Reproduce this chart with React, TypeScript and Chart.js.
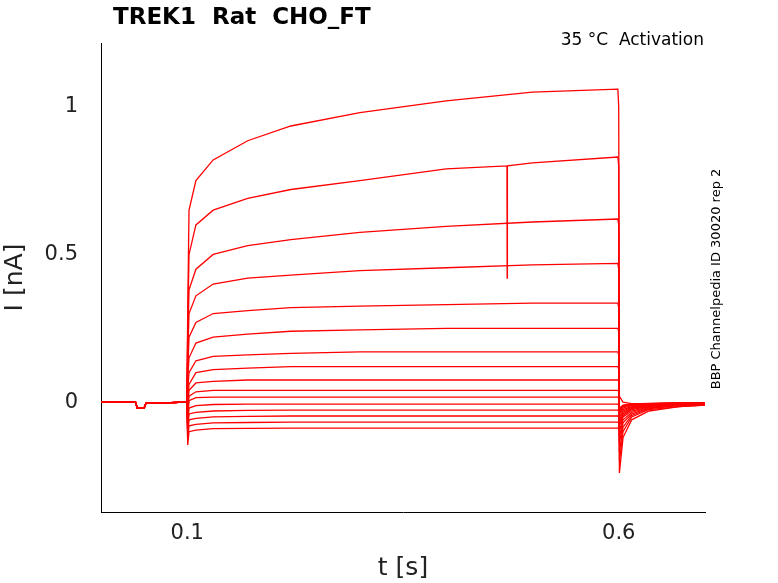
import React, { useEffect, useRef } from 'react';
import Chart from 'chart.js/auto';

// pre-step holding, shared by all sweeps
const PRE_T = [0, 0.04, 0.042, 0.05, 0.052, 0.0995];
const PRE_I = [0, 0, -0.02, -0.02, -0.004, 0];

// step segment times (s)
const STEP_T = [0.1005, 0.102, 0.11, 0.13, 0.17, 0.22, 0.3, 0.4, 0.5, 0.599];
// one row per sweep (nA)
const STEP_I = [
  [0.3, 0.65, 0.75, 0.82, 0.885, 0.935, 0.98, 1.02, 1.05, 1.06],
  [0.25, 0.5, 0.6, 0.65, 0.69, 0.72, 0.75, 0.79, 0.81, 0.83],
  [0.2, 0.38, 0.45, 0.5, 0.53, 0.55, 0.575, 0.595, 0.61, 0.62],
  [0.15, 0.3, 0.36, 0.4, 0.42, 0.43, 0.445, 0.455, 0.465, 0.47],
  [0.1, 0.22, 0.27, 0.3, 0.31, 0.32, 0.325, 0.33, 0.335, 0.335],
  [0.08, 0.15, 0.2, 0.22, 0.23, 0.24, 0.245, 0.25, 0.25, 0.25],
  [0.04, 0.1, 0.14, 0.155, 0.16, 0.165, 0.17, 0.17, 0.17, 0.17],
  [0.0, 0.06, 0.1, 0.11, 0.115, 0.12, 0.12, 0.12, 0.12, 0.12],
  [-0.02, 0.04, 0.065, 0.07, 0.075, 0.075, 0.075, 0.075, 0.075, 0.075],
  [-0.04, 0.02, 0.035, 0.04, 0.04, 0.04, 0.04, 0.04, 0.04, 0.04],
  [-0.06, 0.005, 0.015, 0.017, 0.017, 0.017, 0.017, 0.017, 0.017, 0.017],
  [-0.08, -0.02, -0.012, -0.008, -0.007, -0.007, -0.007, -0.007, -0.007, -0.007],
  [-0.1, -0.04, -0.035, -0.03, -0.028, -0.027, -0.027, -0.027, -0.027, -0.027],
  [-0.11, -0.06, -0.055, -0.05, -0.048, -0.047, -0.047, -0.047, -0.047, -0.047],
  [-0.125, -0.08, -0.075, -0.07, -0.069, -0.068, -0.068, -0.068, -0.068, -0.068],
  [-0.145, -0.1, -0.095, -0.09, -0.089, -0.088, -0.088, -0.088, -0.088, -0.088],
];

// brief artefact on the second sweep
const GLITCH_T = [0.4705, 0.4707, 0.471];
const GLITCH_I = [0.8, 0.42, 0.8];

// tail after the step
const TAIL_T = [0.6, 0.6008, 0.605, 0.615, 0.635, 0.67, 0.7];
const TAIL_I = [
  [1.0, 0.02, 0.0, -0.005, -0.005, -0.005, -0.005],
  [0.8, -0.24, -0.12, -0.06, -0.03, -0.015, -0.01],
  [0.6, -0.2, -0.1, -0.05, -0.025, -0.015, -0.01],
  [0.45, -0.17, -0.085, -0.045, -0.022, -0.012, -0.008],
  [0.32, -0.14, -0.07, -0.04, -0.02, -0.01, -0.007],
  [0.24, -0.12, -0.06, -0.035, -0.018, -0.01, -0.006],
  [0.16, -0.1, -0.05, -0.03, -0.016, -0.009, -0.005],
  [0.11, -0.08, -0.045, -0.025, -0.014, -0.008, -0.005],
  [0.07, -0.07, -0.04, -0.022, -0.012, -0.007, -0.004],
  [0.035, -0.06, -0.035, -0.02, -0.01, -0.006, -0.004],
  [0.015, -0.05, -0.03, -0.018, -0.009, -0.005, -0.003],
  [-0.01, -0.04, -0.025, -0.015, -0.008, -0.004, -0.003],
  [-0.03, -0.035, -0.02, -0.012, -0.007, -0.004, -0.002],
  [-0.05, -0.03, -0.015, -0.01, -0.006, -0.003, -0.002],
  [-0.07, -0.025, -0.012, -0.008, -0.005, -0.003, -0.002],
  [-0.09, -0.02, -0.01, -0.006, -0.004, -0.002, -0.002],
];

const X_TICKS = [0.1, 0.6];
const Y_TICKS = [0, 0.5, 1];

const FONT = 'DejaVu Sans';

const textPlugin = {
  id: 'texts',
  afterDraw(chart: any) {
    const { ctx, chartArea } = chart;
    ctx.save();
    ctx.fillStyle = '#000';
    ctx.font = `bold 23px ${FONT}`;
    ctx.textAlign = 'left';
    ctx.textBaseline = 'middle';
    ctx.fillText('TREK1  Rat  CHO_FT', 113, 18);
    ctx.font = `17px ${FONT}`;
    ctx.textAlign = 'right';
    ctx.fillText('35 °C  Activation', chartArea.right - 1, 41);
    ctx.translate(717, 279);
    ctx.rotate(-Math.PI / 2);
    ctx.textAlign = 'center';
    ctx.font = `13px ${FONT}`;
    ctx.fillText('BBP Channelpedia ID 30020 rep 2', 0, 0);
    ctx.restore();
  },
};

const App: React.FC = () => {
  const canvasRef = useRef<HTMLCanvasElement | null>(null);

  useEffect(() => {
    if (!canvasRef.current) return;
    const datasets = STEP_I.map((row, k) => {
      const pts: { x: number; y: number }[] = [];
      PRE_T.forEach((t, i) => pts.push({ x: t, y: PRE_I[i] }));
      STEP_T.forEach((t, i) => {
        pts.push({ x: t, y: row[i] });
        if (k === 1 && i === 7) GLITCH_T.forEach((g, j) => pts.push({ x: g, y: GLITCH_I[j] }));
      });
      TAIL_T.forEach((t, i) => pts.push({ x: t, y: TAIL_I[k][i] }));
      return {
        data: pts,
        borderColor: '#ff0000',
        borderWidth: 1.3,
        pointRadius: 0,
        fill: false,
      };
    });

    const chart = new Chart(canvasRef.current, {
      type: 'line',
      data: { datasets },
      options: {
        animation: false,
        responsive: false,
        layout: { padding: { top: 43, right: 73, left: 0, bottom: 0 } },
        plugins: { legend: { display: false }, tooltip: { enabled: false } },
        scales: {
          x: {
            type: 'linear',
            min: 0,
            max: 0.7,
            afterBuildTicks: (s: any) => { s.ticks = X_TICKS.map((v) => ({ value: v })); },
            afterFit: (s: any) => { s.height = 71; },
            grid: { display: false, drawTicks: false },
            border: { color: '#000' },
            ticks: { color: '#222', font: { family: FONT, size: 21 }, padding: 9 },
            title: { display: true, text: 't [s]', color: '#222', font: { family: FONT, size: 25 }, padding: 0 },
          },
          y: {
            type: 'linear',
            min: -0.372,
            max: 1.216,
            afterBuildTicks: (s: any) => { s.ticks = Y_TICKS.map((v) => ({ value: v })); },
            afterFit: (s: any) => { s.width = 101; },
            grid: { display: false, drawTicks: false },
            border: { color: '#000' },
            ticks: { color: '#222', font: { family: FONT, size: 21 }, padding: 23, callback: (v: any) => String(v) },
            title: { display: true, text: 'I [nA]', color: '#222', font: { family: FONT, size: 25 }, padding: 0 },
          },
        },
      },
      plugins: [textPlugin],
    });
    return () => chart.destroy();
  }, []);

  return (
    <div style={{ position: 'absolute', left: 0, top: 0, width: 778, height: 583, background: '#fff' }}>
      <canvas ref={canvasRef} width={778} height={583} />
    </div>
  );
};

export default App;
